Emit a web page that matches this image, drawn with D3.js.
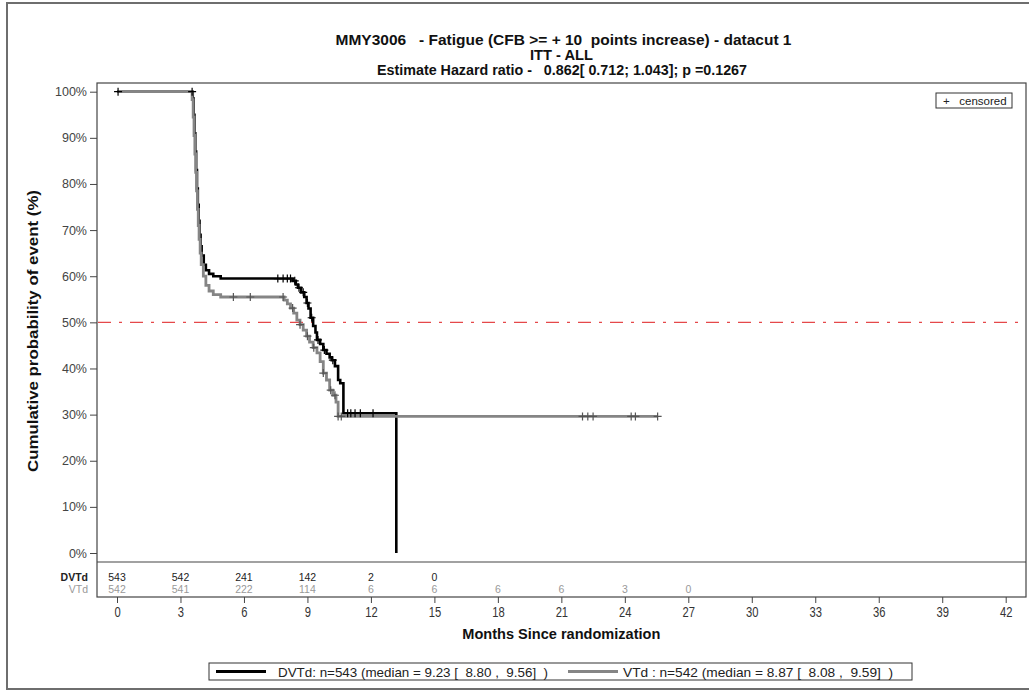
<!DOCTYPE html>
<html>
<head>
<meta charset="utf-8">
<script src="https://cdn.jsdelivr.net/npm/d3@7"></script>
<style>
  html, body { margin: 0; padding: 0; background: #fff; }
  svg { display: block; font-family: "Liberation Sans", Arial, sans-serif; }
  text { white-space: pre; }
</style>
</head>
<body>
<svg id="chart" width="1029" height="692"></svg>
<script>
// Kaplan-Meier step data (time in months, percentage still at curve level)
const dvtdTimes = [0, 3.58, 3.62, 3.66, 3.70, 3.74, 3.78, 3.82, 3.86, 3.90, 3.95, 4.00, 4.10, 4.20, 4.35, 4.55, 4.90,
  8.30, 8.45, 8.55, 8.70, 8.85, 8.96, 9.05, 9.15, 9.27, 9.38, 9.45, 9.60, 9.75, 9.90, 10.05, 10.15, 10.30, 10.45, 10.55, 10.70, 13.20];
const dvtdValues = [100, 98.5, 95, 91, 87, 83, 79, 75.5, 72, 69, 66.5, 64.5, 62.5, 61.3, 60.5, 60.0, 59.5,
  59.0, 58.2, 57.5, 56.5, 55.5, 54.2, 53, 51, 49.2, 47.8, 46.2, 45.3, 44.0, 43.2, 42.4, 41.8, 40.5, 37.5, 36.8, 30.3, 0];
const dvtdCensored = [0.05, 3.55, 7.6, 7.85, 8.05, 8.2, 8.4, 8.6, 8.8, 9.0, 9.2, 9.5, 9.8, 10.2, 10.9, 11.05, 11.25, 11.5, 12.1];

const vtdTimes = [0, 3.55, 3.60, 3.64, 3.68, 3.72, 3.76, 3.80, 3.84, 3.88, 3.93, 3.98, 4.08, 4.20, 4.35, 4.55, 4.90,
  7.90, 8.05, 8.20, 8.35, 8.50, 8.65, 8.80, 8.96, 9.10, 9.27, 9.45, 9.60, 9.75, 9.90, 10.05, 10.20, 10.35, 10.45];
const vtdValues = [100, 98.3, 94.5, 90.5, 86.5, 82.5, 78.5, 74.5, 71, 68, 65, 62.5, 60, 58, 56.8, 56, 55.5,
  54.8, 54, 53.1, 52, 50.5, 49.5, 48.3, 47, 45.7, 44.5, 43.4, 41.5, 39, 37.5, 35.3, 34.2, 32.7, 29.6];
const vtdEnd = 25.55;
const vtdCensored = [5.5, 6.3, 7.85, 8.3, 8.65, 9.0, 9.3, 9.75, 10.1, 10.3, 10.45, 10.6, 22.0, 22.25, 22.5, 24.3, 24.5, 25.55];

// Numbers at risk
const riskTimes = [0, 3, 6, 9, 12, 15, 18, 21, 24, 27];
const dvtdAtRisk = [543, 542, 241, 142, 2, 0];
const vtdAtRisk = [542, 541, 222, 114, 6, 6, 6, 6, 3, 0];

// Axis ticks
const xTicks = d3.range(0, 43, 3);
const yTicks = d3.range(0, 101, 10);

const titleLines = [
  "MMY3006   - Fatigue (CFB >= + 10  points increase) - datacut 1",
  "ITT - ALL",
  "Estimate Hazard ratio -   0.862[ 0.712; 1.043]; p =0.1267"
];
const legendItems = [
  { label: "DVTd: n=543 (median = 9.23 [  8.80 ,  9.56]  )", color: "#000" },
  { label: "VTd : n=542 (median = 8.87 [  8.08 ,  9.59]  )", color: "#858585" }
];

const svg = d3.select("#chart");

// frame geometry
const boxL = 97, boxR = 1026, boxT = 83, plotB = 562, boxB = 597;

const x = d3.scaleLinear().domain([0, 42]).range([117, 1005.7]);
const y = d3.scaleLinear().domain([0, 100]).range([553, 91.7]);

// outer page frame
svg.append("rect").attr("x", 7).attr("y", 3).attr("width", 1030).attr("height", 686)
  .attr("fill", "none").attr("stroke", "#6e6e6e").attr("stroke-width", 2);

// titles
const titleLayout = [
  { cx: 563.5, y: 45, w: 456 },
  { cx: 561.5, y: 60, w: 63 },
  { cx: 562, y: 75, w: 370 }
];
titleLines.forEach((t, i) => {
  svg.append("text").attr("x", titleLayout[i].cx - titleLayout[i].w / 2).attr("y", titleLayout[i].y)
    .attr("font-size", 14.5).attr("font-weight", "bold").attr("fill", "#111")
    .attr("textLength", titleLayout[i].w).attr("lengthAdjust", "spacingAndGlyphs").text(t);
});

// plot box and at-risk box
const frame = svg.append("g").attr("stroke", "#444").attr("stroke-width", 1.2).attr("fill", "none");
frame.append("rect").attr("x", boxL).attr("y", boxT).attr("width", boxR - boxL).attr("height", boxB - boxT);
frame.append("line").attr("x1", boxL).attr("x2", boxR).attr("y1", plotB).attr("y2", plotB);

// y axis
const yAxis = svg.append("g").attr("transform", `translate(${boxL},0)`)
  .call(d3.axisLeft(y).tickValues(yTicks).tickFormat(d => d + "%").tickSize(7).tickPadding(3));
yAxis.select(".domain").remove();
yAxis.selectAll("line").attr("stroke", "#444");
yAxis.selectAll("text").attr("font-size", 12.5).attr("fill", "#444")
  .attr("font-family", "'Liberation Sans', Arial, sans-serif");

svg.append("text").attr("x", 0).attr("y", 0)
  .attr("transform", `translate(38,331) rotate(-90)`).attr("text-anchor", "middle")
  .attr("font-size", 15).attr("font-weight", "bold").attr("fill", "#111")
  .attr("textLength", 282).attr("lengthAdjust", "spacingAndGlyphs")
  .text("Cumulative probability of event (%)");

// x axis with condensed tick labels
const xAxis = svg.append("g").attr("transform", `translate(0,${boxB})`)
  .call(d3.axisBottom(x).tickValues(xTicks).tickSize(6).tickPadding(4));
xAxis.select(".domain").remove();
xAxis.selectAll("line").attr("stroke", "#444");
xAxis.selectAll("text").attr("font-size", 14).attr("fill", "#333")
  .attr("font-family", "'Liberation Sans', Arial, sans-serif")
  .attr("dy", null).attr("y", 20).attr("transform", "scale(0.8,1)");

svg.append("text").attr("x", x(21) - 99).attr("y", 639)
  .attr("font-size", 15).attr("font-weight", "bold").attr("fill", "#111")
  .attr("textLength", 198).attr("lengthAdjust", "spacingAndGlyphs")
  .text("Months Since randomization");

// 50% reference line
svg.append("line").attr("x1", boxL + 1).attr("x2", boxR - 1).attr("y1", y(50)).attr("y2", y(50))
  .attr("stroke", "#e5484a").attr("stroke-width", 1.3).attr("stroke-dasharray", "13,8,3,8");

// survival curves
const stepLine = d3.line().x(d => x(d[0])).y(d => y(d[1])).curve(d3.curveStepAfter);
function stepValue(times, values, t) {
  const i = d3.bisectRight(times, t) - 1;
  return values[Math.max(0, i)];
}
const dvtdPts = dvtdTimes.map((t, i) => [t, dvtdValues[i]]);
const vtdPts = vtdTimes.map((t, i) => [t, vtdValues[i]]);
vtdPts.push([vtdEnd, vtdValues[vtdValues.length - 1]]);

const curves = svg.append("g");
curves.append("path").attr("d", stepLine(dvtdPts)).attr("fill", "none")
  .attr("stroke", "#000").attr("stroke-width", 2.6);
curves.append("path").attr("d", stepLine(vtdPts)).attr("fill", "none")
  .attr("stroke", "#858585").attr("stroke-width", 2.8);

function drawCensors(times, values, list, color) {
  const g = svg.append("g").attr("stroke", color).attr("stroke-width", 1.2);
  list.forEach(t => {
    const cx = x(t), cy = y(stepValue(times, values, t));
    g.append("path").attr("d", `M${cx - 4},${cy}H${cx + 4}M${cx},${cy - 4}V${cy + 4}`);
  });
}
drawCensors(vtdTimes, vtdValues, vtdCensored, "#555");
drawCensors(dvtdTimes, dvtdValues, dvtdCensored, "#000");

// censored key
svg.append("rect").attr("x", 936).attr("y", 93).attr("width", 76).attr("height", 15)
  .attr("fill", "#fff").attr("stroke", "#333").attr("stroke-width", 1);
svg.append("text").attr("x", 943).attr("y", 105).attr("font-size", 11.5).attr("fill", "#222").text("+   censored");

// numbers at risk
svg.append("text").attr("x", 88).attr("y", 581).attr("text-anchor", "end").attr("font-size", 10.5)
  .attr("font-weight", "bold").attr("fill", "#222").text("DVTd");
svg.append("text").attr("x", 88).attr("y", 593).attr("text-anchor", "end").attr("font-size", 10.5)
  .attr("fill", "#999").text("VTd");
svg.append("g").selectAll("text").data(dvtdAtRisk).join("text")
  .attr("x", (d, i) => x(riskTimes[i])).attr("y", 581).attr("text-anchor", "middle")
  .attr("font-size", 10.5).attr("fill", "#222").text(d => d);
svg.append("g").selectAll("text").data(vtdAtRisk).join("text")
  .attr("x", (d, i) => x(riskTimes[i])).attr("y", 593).attr("text-anchor", "middle")
  .attr("font-size", 10.5).attr("fill", "#999").text(d => d);

// bottom legend
const lg = svg.append("g");
lg.append("rect").attr("x", 209).attr("y", 663).attr("width", 703).attr("height", 17)
  .attr("fill", "#fff").attr("stroke", "#333").attr("stroke-width", 1);
const legendX = [{ line: 216, text: 278 }, { line: 568, text: 623 }];
legendItems.forEach((it, i) => {
  lg.append("line").attr("x1", legendX[i].line).attr("x2", legendX[i].line + 50)
    .attr("y1", 671.5).attr("y2", 671.5).attr("stroke", it.color).attr("stroke-width", 3);
  lg.append("text").attr("x", legendX[i].text).attr("y", 676.5).attr("font-size", 13.5)
    .attr("fill", "#222").attr("textLength", 270).attr("lengthAdjust", "spacingAndGlyphs")
    .text(it.label);
});
</script>
</body>
</html>
